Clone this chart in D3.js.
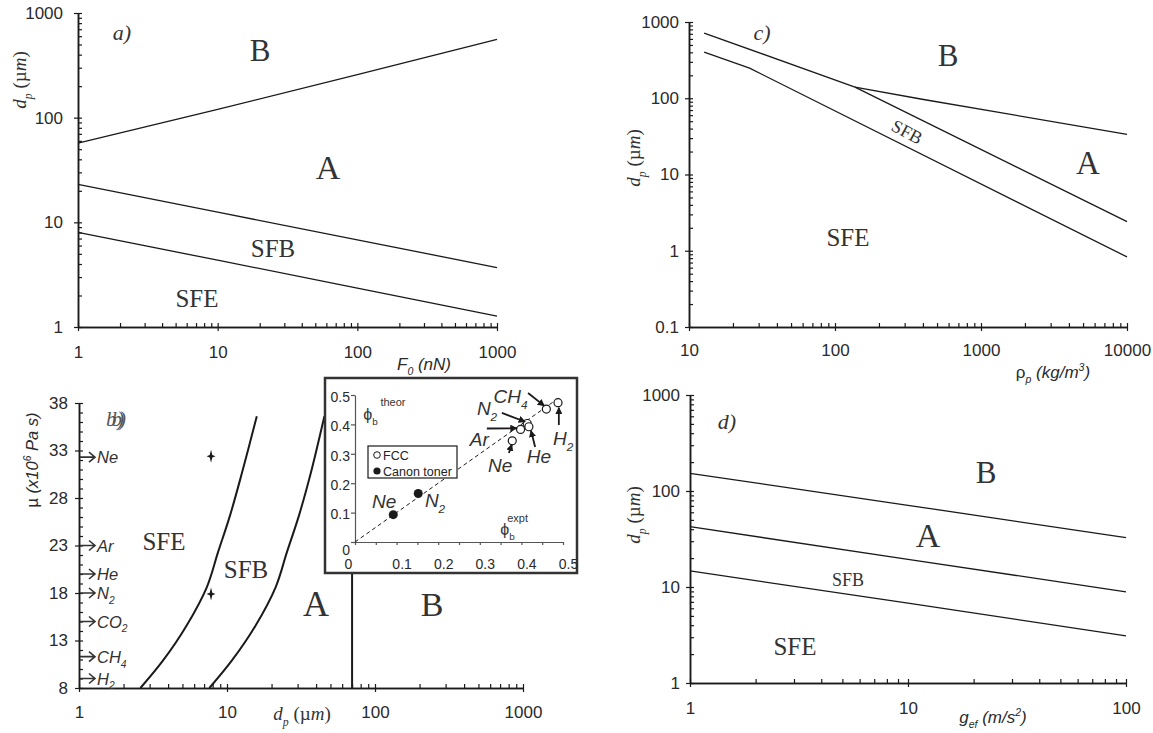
<!DOCTYPE html>
<html><head><meta charset="utf-8">
<script src="https://cdn.jsdelivr.net/npm/d3@7"></script>
<style>body{margin:0;background:#fff} svg{display:block}</style>
</head><body><svg id="c" width="1153" height="733"></svg>
<script>
// ================= DATA =================
// Panel a : dp vs F0
const aF0 = [1, 10, 100, 1000];
const aLineAB = [57, 120, 258, 560];
const aLineASFB = [23, 12.5, 6.8, 3.7];
const aLineSFBSFE = [8, 4.35, 2.35, 1.27];
const aTicksX = [1, 10, 100, 1000];
const aTicksY = [1, 10, 100, 1000];

// Panel c : dp vs rho_p
const cRhoTop = [12.7, 137];
const cDpTop = [716, 140];
const cRhoAB = [137, 395, 10000];
const cDpAB = [140, 97, 33.6];
const cRhoASFB = [137, 10000];
const cDpASFB = [140, 2.41];
const cRhoSFB = [12.7, 26, 10000];
const cDpSFB = [403, 248, 0.83];
const cTicksX = [10, 100, 1000, 10000];
const cTicksY = [0.1, 1, 10, 100, 1000];

// Panel d : dp vs g_ef
const dG = [1, 10, 100];
const dLineAB = [153, 71, 32.7];
const dLineASFB = [42.5, 19.4, 8.9];
const dLineSFBSFE = [14.7, 6.8, 3.1];
const dTicksX = [1, 10, 100];
const dTicksY = [1, 10, 100, 1000];

// Panel b : mu vs dp
const bDpSFE = [2.6, 3.7, 5.3, 7.3, 8.7, 10.5, 12.6, 15.9];
const bMuSFE = [8, 10.9, 14.5, 18.6, 22.3, 26.2, 30.6, 36.6];
const bDpSFB = [7.6, 10.8, 15.5, 21.3, 25.4, 30.7, 36.8, 45.5];
const bMuSFB = [8, 10.9, 14.5, 18.6, 22.3, 26.2, 30.6, 36.6];
const bDpAB = [70, 70];
const bMuAB = [8, 22];
const bStarDp = [7.8, 7.8];
const bStarMu = [32.4, 17.9];
const bGasNames = ["Ne", "Ar", "He", "N2", "CO2", "CH4", "H2"];
const bGasMu = [32.3, 23, 20, 18, 15, 11.3, 9];
const bTicksX = [1, 10, 100, 1000];
const bTicksY = [8, 13, 18, 23, 28, 33, 38];

// Inset : phi_b theor vs expt
const iFccNames = ["Ne", "Ar", "N2", "He", "CH4", "H2"];
const iFccExpt = [0.378, 0.398, 0.414, 0.418, 0.46, 0.488];
const iFccTheor = [0.344, 0.383, 0.403, 0.392, 0.452, 0.474];
const iTonerNames = ["Ne", "N2"];
const iTonerExpt = [0.092, 0.152];
const iTonerTheor = [0.093, 0.165];
const iParity = [0, 0.49];
const iTicks = [0, 0.1, 0.2, 0.3, 0.4, 0.5];

// ================= DRAWING =================
const svg = d3.select("#c");
const INK = "#1a1a1a", TXT = "#2a2a2a";
const SANS = "'Liberation Sans', Arial, sans-serif";
const SERIF = "'Liberation Serif', 'Times New Roman', serif";

function rich(parent, x, y, parts, o) {
  const t = parent.append("text").attr("x", x).attr("y", y)
    .attr("font-family", o.family).attr("font-size", o.size)
    .attr("fill", o.fill || TXT).attr("text-anchor", o.anchor || "start");
  if (o.italic) t.attr("font-style", "italic");
  if (o.rotate) t.attr("transform", `rotate(${o.rotate},${x},${y})`);
  let shift = 0;
  parts.forEach(p => {
    const target = p.s === "sub" ? o.size * 0.3 : p.s === "sup" ? -o.size * 0.42 : 0;
    const ts = t.append("tspan").text(p.t).attr("dy", target - shift);
    shift = target;
    if (p.s) ts.attr("font-size", o.size * 0.62);
    if (p.it !== undefined) ts.attr("font-style", p.it ? "italic" : "normal");
  });
  return t;
}
function chem(name) {
  return name.match(/[A-Za-z]+|\d+/g).map(s => /\d/.test(s) ? {t: s, s: "sub"} : {t: s});
}
function logMinors(s) {
  const [d0, d1] = s.domain(); const out = [];
  for (let e = Math.floor(Math.log10(d0) + 1e-9); e < Math.log10(d1) - 1e-9; e++)
    for (let k = 2; k < 10; k++) { const v = +(k * Math.pow(10, e)).toPrecision(6); if (v > d0 && v < d1) out.push(v); }
  return out;
}
function styleAxis(g, fs) {
  g.attr("font-family", SANS).attr("font-size", fs);
  g.select(".domain").attr("stroke", INK).attr("stroke-width", 1.5);
  g.selectAll(".tick line").attr("stroke", INK).attr("stroke-width", 1.2);
  g.selectAll(".tick text").attr("fill", TXT);
}
function frame(x, y, xt, yt, xm, ym, o) {
  const [xa] = x.range(), [ya] = y.range();
  const g = svg.append("g");
  const fmt = d => String(d);
  styleAxis(g.append("g").attr("transform", `translate(0,${ya})`)
    .call(d3.axisTop(x).tickValues(xt.concat(xm)).tickFormat("").tickSizeInner(4).tickSizeOuter(0)), o.fs);
  styleAxis(g.append("g").attr("transform", `translate(0,${ya})`)
    .call(d3.axisBottom(x).tickValues(xt).tickFormat(fmt).tickSizeInner(4).tickSizeOuter(0).tickPadding(o.xpad)), o.fs);
  styleAxis(g.append("g").attr("transform", `translate(${xa},0)`)
    .call(d3.axisRight(y).tickValues(yt.concat(ym)).tickFormat("").tickSizeInner(4).tickSizeOuter(0)), o.fs);
  styleAxis(g.append("g").attr("transform", `translate(${xa},0)`)
    .call(d3.axisLeft(y).tickValues(yt).tickFormat(fmt).tickSizeInner(4).tickSizeOuter(0).tickPadding(o.ypad)), o.fs);
  return g;
}
function drawLine(x, y, xs, ys, w, curve) {
  const ln = d3.line().x(d => x(d[0])).y(d => y(d[1]));
  if (curve) ln.curve(curve);
  svg.append("path").attr("d", ln(d3.zip(xs, ys))).attr("fill", "none")
    .attr("stroke", INK).attr("stroke-width", w).attr("stroke-linejoin", "round");
}
function serifLabel(x, y, txt, size, extra) {
  const t = svg.append("text").attr("x", x).attr("y", y).attr("font-family", SERIF)
    .attr("font-size", size).attr("fill", "#333").attr("text-anchor", "middle")
    .attr("dominant-baseline", "central").text(txt);
  if (extra) extra(t);
  return t;
}
function dpTitle(x, y, size, rot) {
  rich(svg, x, y, [{t: "d", it: true}, {t: "p", s: "sub", it: true}, {t: " (", it: false}, {t: "\u00b5", it: false}, {t: "m", it: true}, {t: ")", it: false}],
    {family: SERIF, size: size, anchor: "middle", rotate: rot, fill: "#333"});
}

// ---------- Panel a ----------
const xA = d3.scaleLog().domain([1, 1000]).range([78, 497]);
const yA = d3.scaleLog().domain([1, 1000]).range([327, 13]);
frame(xA, yA, aTicksX, aTicksY, logMinors(xA), logMinors(yA), {fs: 17, xpad: 15, ypad: 11});
drawLine(xA, yA, aF0, aLineAB, 1.3);
drawLine(xA, yA, aF0, aLineASFB, 1.3);
drawLine(xA, yA, aF0, aLineSFBSFE, 1.3);
serifLabel(122, 32, "a)", 22, t => t.attr("font-style", "italic"));
serifLabel(260, 50, "B", 31);
serifLabel(328, 167, "A", 34);
serifLabel(273, 248, "SFB", 25);
serifLabel(197, 298, "SFE", 25);
dpTitle(26, 80, 19, -90);
rich(svg, 424, 370, [{t: "F"}, {t: "0", s: "sub"}, {t: " (nN)"}], {family: SANS, size: 17, anchor: "middle", italic: true});

// ---------- Panel c ----------
const xC = d3.scaleLog().domain([10, 10000]).range([689, 1127]);
const yC = d3.scaleLog().domain([0.1, 1000]).range([327, 22]);
frame(xC, yC, cTicksX, cTicksY, logMinors(xC), logMinors(yC), {fs: 17, xpad: 13, ypad: 6});
drawLine(xC, yC, cRhoTop, cDpTop, 1.3);
drawLine(xC, yC, cRhoAB, cDpAB, 1.3);
drawLine(xC, yC, cRhoASFB, cDpASFB, 1.3);
drawLine(xC, yC, cRhoSFB, cDpSFB, 1.3);
serifLabel(762, 32, "c)", 22, t => t.attr("font-style", "italic"));
serifLabel(948, 55, "B", 31);
serifLabel(1088, 163, "A", 33);
serifLabel(848, 237, "SFE", 25);
serifLabel(907, 132, "SFB", 18, t => t.attr("transform", "rotate(28,907,132)"));
dpTitle(640, 158, 19, -90);
rich(svg, 1053, 378, [{t: "\u03c1", it: false}, {t: "p", s: "sub"}, {t: " (kg/m"}, {t: "3", s: "sup"}, {t: ")"}], {family: SANS, size: 17, anchor: "middle", italic: true});

// ---------- Panel d ----------
const xD = d3.scaleLog().domain([1, 100]).range([690, 1126]);
const yD = d3.scaleLog().domain([1, 1000]).range([683, 395]);
frame(xD, yD, dTicksX, dTicksY, logMinors(xD), logMinors(yD), {fs: 17, xpad: 15, ypad: 6});
drawLine(xD, yD, dG, dLineAB, 1.3);
drawLine(xD, yD, dG, dLineASFB, 1.3);
drawLine(xD, yD, dG, dLineSFBSFE, 1.3);
serifLabel(727, 421, "d)", 22, t => t.attr("font-style", "italic"));
serifLabel(986, 472, "B", 31);
serifLabel(928, 535, "A", 34);
serifLabel(848, 580, "SFB", 18);
serifLabel(795, 646, "SFE", 25);
dpTitle(640, 515, 19, -90);
rich(svg, 993, 723, [{t: "g"}, {t: "ef", s: "sub"}, {t: " (m/s"}, {t: "2", s: "sup"}, {t: ")"}], {family: SANS, size: 17, anchor: "middle", italic: true});

// ---------- Panel b ----------
const xB = d3.scaleLog().domain([1, 1000]).range([79, 523]);
const yB = d3.scaleLinear().domain([8, 38]).range([688, 403]);
frame(xB, yB, bTicksX, bTicksY, logMinors(xB), d3.range(9, 38).filter(v => !bTicksY.includes(v)), {fs: 17, xpad: 14, ypad: 7});
drawLine(xB, yB, bDpSFE, bMuSFE, 2, d3.curveCatmullRom.alpha(0.5));
drawLine(xB, yB, bDpSFB, bMuSFB, 2, d3.curveCatmullRom.alpha(0.5));
drawLine(xB, yB, bDpAB, bMuAB, 2);
const star = "M0,-6.5 L1.3,-1.3 L4.5,0 L1.3,1.3 L0,6.5 L-1.3,1.3 L-4.5,0 L-1.3,-1.3 Z";
svg.selectAll(".star").data(d3.zip(bStarDp, bStarMu)).join("path")
  .attr("d", star).attr("fill", INK)
  .attr("transform", d => `translate(${xB(d[0])},${yB(d[1])})`);
bGasNames.forEach((n, i) => {
  const y = yB(bGasMu[i]), x0 = xB(1);
  svg.append("path").attr("d", `M${x0 + 1},${y}H${x0 + 16}M${x0 + 10},${y - 5}L${x0 + 16},${y}L${x0 + 10},${y + 5}`)
    .attr("fill", "none").attr("stroke", "#333").attr("stroke-width", 1.6);
  rich(svg, x0 + 18, y + 6, chem(n), {family: SANS, size: 16.5, italic: true, fill: "#333"});
});
// the doubled "b)" mark of the original, as a single tightly spaced text
svg.append("text").attr("x", 106).attr("y", 426).attr("font-family", SERIF)
  .attr("font-size", 21).attr("font-style", "italic").attr("fill", "#555")
  .attr("letter-spacing", -5).text("bb))");
serifLabel(164, 541, "SFE", 25);
serifLabel(246, 569, "SFB", 25);
serifLabel(316, 604, "A", 36);
serifLabel(432, 604, "B", 34);
rich(svg, 302, 720, [{t: "d", it: true}, {t: "p", s: "sub", it: true}, {t: " (", it: false}, {t: "\u00b5", it: false}, {t: "m", it: true}, {t: ")", it: false}],
  {family: SERIF, size: 19, anchor: "middle", fill: "#333"});
rich(svg, 38, 460, [{t: "\u00b5 ", it: false}, {t: "(x10"}, {t: "6", s: "sup"}, {t: " Pa s)"}],
  {family: SANS, size: 16.5, anchor: "middle", rotate: -90, italic: true});

// ---------- Inset ----------
const xI = d3.scaleLinear().domain([0, 0.5]).range([355, 563]);
const yI = d3.scaleLinear().domain([0, 0.5]).range([542, 395]);
svg.append("rect").attr("x", 325).attr("y", 378).attr("width", 252).attr("height", 195)
  .attr("fill", "#fff").attr("stroke", "#333").attr("stroke-width", 2.5);
const gi = svg.append("g");
const ax1 = gi.append("g").attr("transform", `translate(0,${yI(0)})`)
  .call(d3.axisBottom(xI).tickValues(d3.range(0, 0.51, 0.05)).tickFormat("").tickSizeInner(3).tickSizeOuter(0));
styleAxis(ax1, 14); ax1.select(".domain").attr("stroke-width", 1.2).attr("stroke", "#555");
ax1.selectAll(".tick line").attr("stroke", "#555");
const ax2 = gi.append("g").attr("transform", `translate(0,${yI(0)})`)
  .call(d3.axisBottom(xI).tickValues(iTicks).tickFormat(d => String(d)).tickSize(0).tickPadding(17));
styleAxis(ax2, 14); ax2.select(".domain").remove();
ax2.selectAll(".tick text").attr("dx", d => d === 0 ? -7 : 5);
const ay = gi.append("g").attr("transform", `translate(${xI(0)},0)`)
  .call(d3.axisLeft(yI).tickValues(iTicks).tickFormat(d => String(d)).tickSizeInner(4).tickSizeOuter(0).tickPadding(1));
styleAxis(ay, 14); ay.select(".domain").attr("stroke-width", 1.2).attr("stroke", "#555");
ay.selectAll(".tick line").attr("stroke", "#555");
ay.selectAll(".tick text").attr("dy", d => d === 0 ? "0.9em" : "0.45em");
gi.append("path").attr("d", d3.line().x(d => xI(d)).y(d => yI(d))(iParity))
  .attr("stroke", INK).attr("stroke-width", 1).attr("stroke-dasharray", "4,3").attr("fill", "none");
gi.selectAll(".fcc").data(d3.zip(iFccExpt, iFccTheor)).join("circle")
  .attr("cx", d => xI(d[0])).attr("cy", d => yI(d[1])).attr("r", 4)
  .attr("fill", "#fff").attr("stroke", INK).attr("stroke-width", 1.2);
gi.selectAll(".ton").data(d3.zip(iTonerExpt, iTonerTheor)).join("circle")
  .attr("cx", d => xI(d[0])).attr("cy", d => yI(d[1])).attr("r", 4.5).attr("fill", INK);
const defs = svg.append("defs");
defs.append("marker").attr("id", "ah").attr("viewBox", "0 0 10 10").attr("refX", 9).attr("refY", 5)
  .attr("markerWidth", 4).attr("markerHeight", 4).attr("orient", "auto")
  .append("path").attr("d", "M0,0L10,5L0,10Z").attr("fill", INK);
const iNotes = [
  {n: "CH4", x: 0.333, y: 0.473, a: [0.416, 0.507, 0.455, 0.463]},
  {n: "N2", x: 0.293, y: 0.432, a: [0.353, 0.439, 0.409, 0.409]},
  {n: "Ar", x: 0.276, y: 0.327, a: [0.317, 0.386, 0.389, 0.387]},
  {n: "Ne", x: 0.32, y: 0.238, a: [0.37, 0.303, 0.377, 0.332]},
  {n: "He", x: 0.413, y: 0.269, a: [0.433, 0.323, 0.423, 0.379]},
  {n: "H2", x: 0.476, y: 0.33, a: [0.49, 0.398, 0.49, 0.457]},
  {n: "Ne", x: 0.041, y: 0.116},
  {n: "N2", x: 0.168, y: 0.119}
];
iNotes.forEach(o => {
  if (o.a) gi.append("line").attr("x1", xI(o.a[0])).attr("y1", yI(o.a[1])).attr("x2", xI(o.a[2])).attr("y2", yI(o.a[3]))
    .attr("stroke", INK).attr("stroke-width", 1.8).attr("marker-end", "url(#ah)");
  rich(gi, xI(o.x), yI(o.y), chem(o.n), {family: SANS, size: 19, italic: true, fill: "#333"});
});
rich(gi, xI(0.02), yI(0.415), [{t: "\u03d5"}, {t: "b", s: "sub"}], {family: SANS, size: 16, fill: "#333"});
gi.append("text").attr("x", xI(0.061)).attr("y", yI(0.462)).attr("font-family", SANS).attr("font-size", 11).attr("fill", "#333").text("theor");
rich(gi, xI(0.349), yI(0.024), [{t: "\u03d5"}, {t: "b", s: "sub"}], {family: SANS, size: 16, fill: "#333"});
gi.append("text").attr("x", xI(0.366)).attr("y", yI(0.068)).attr("font-family", SANS).attr("font-size", 11).attr("fill", "#333").text("expt");
gi.append("rect").attr("x", 368).attr("y", 446).attr("width", 89).attr("height", 32)
  .attr("fill", "#fff").attr("stroke", INK).attr("stroke-width", 1.2);
gi.append("circle").attr("cx", 377).attr("cy", 455).attr("r", 3.3).attr("fill", "#fff").attr("stroke", INK).attr("stroke-width", 1);
gi.append("circle").attr("cx", 377).attr("cy", 471).attr("r", 3.6).attr("fill", INK);
gi.append("text").attr("x", 383).attr("y", 459.5).attr("font-family", SANS).attr("font-size", 12.5).attr("fill", "#222").text("FCC");
gi.append("text").attr("x", 383).attr("y", 475.5).attr("font-family", SANS).attr("font-size", 12.5).attr("fill", "#222").text("Canon toner");
</script></body></html>
